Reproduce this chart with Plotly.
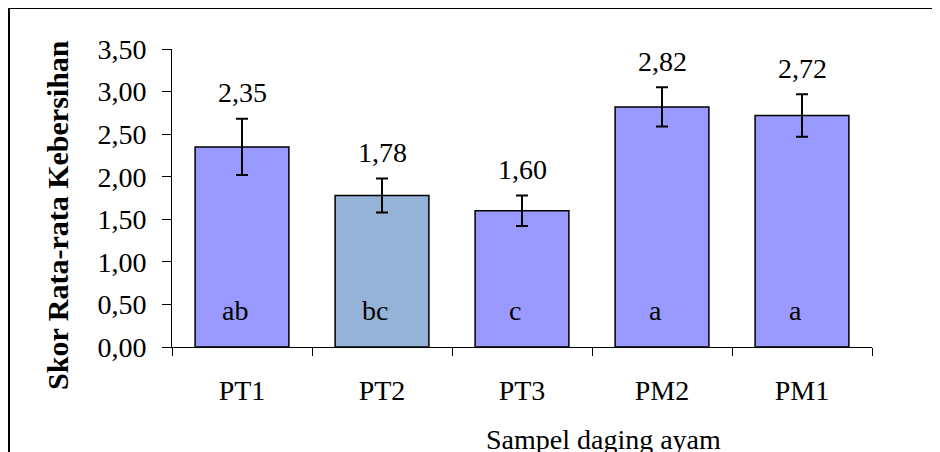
import plotly.graph_objects as go

categories = ["PT1", "PT2", "PT3", "PM2", "PM1"]
means = [2.35, 1.78, 1.60, 2.82, 2.72]
errors = [0.33, 0.20, 0.18, 0.23, 0.25]
value_labels = ["2,35", "1,78", "1,60", "2,82", "2,72"]
letters = ["ab", "bc", "c", "a", "a"]
bar_colors = ["#9999FF", "#95B3D7", "#9999FF", "#9999FF", "#9999FF"]
y_tickvals = [0, 0.5, 1.0, 1.5, 2.0, 2.5, 3.0, 3.5]
y_ticktext = ["0,00", "0,50", "1,00", "1,50", "2,00", "2,50", "3,00", "3,50"]

FONT = "Liberation Serif, Times New Roman, serif"
FS = 28

fig = go.Figure()
fig.add_trace(go.Bar(
    x=categories, y=means, width=0.67,
    marker=dict(color=bar_colors, line=dict(color="black", width=1.5)),
    error_y=dict(type="data", array=errors, visible=True,
                 color="black", thickness=2, width=6),
    showlegend=False, hoverinfo="skip",
))

annotations = []
for c, m, e, t in zip(categories, means, errors, value_labels):
    annotations.append(dict(x=c, y=m + e, text=t, showarrow=False,
                            xref="x", yref="y", yanchor="middle", yshift=26,
                            font=dict(family=FONT, size=FS, color="black")))
for c, l in zip(categories, letters):
    annotations.append(dict(x=c, y=0.43, text=l, showarrow=False,
                            xref="x", yref="y", yanchor="middle", xshift=-7,
                            font=dict(family=FONT, size=FS, color="black")))
annotations.append(dict(x=-0.163, y=0.443, xref="paper", yref="paper",
                        text="<b>Skor Rata-rata Kebersihan</b>", textangle=-90,
                        showarrow=False, xanchor="center", yanchor="middle",
                        font=dict(family=FONT, size=30, color="black")))
annotations.append(dict(x=0.617, y=-0.312, xref="paper", yref="paper",
                        text="Sampel daging ayam", showarrow=False,
                        xanchor="center", yanchor="middle",
                        font=dict(family=FONT, size=FS, color="black")))

fig.update_layout(
    width=932, height=444,
    margin=dict(l=164, r=68, t=41, b=105),
    paper_bgcolor="white", plot_bgcolor="white",
    font=dict(family=FONT, size=FS, color="black"),
    annotations=annotations,
    shapes=[dict(type="rect", xref="paper", yref="paper",
                 x0=-0.2329, x1=1.11, y0=-0.40, y1=1.1376,
                 line=dict(color="black", width=2), layer="above")],
)
fig.update_xaxes(
    showline=True, linecolor="black", linewidth=1,
    ticks="outside", tickson="boundaries", ticklen=8, tickcolor="black",
    ticklabelstandoff=18, showgrid=False, zeroline=False,
    tickfont=dict(family=FONT, size=FS, color="black"),
)
fig.update_yaxes(
    range=[0, 3.5], tickvals=y_tickvals, ticktext=y_ticktext,
    showline=True, linecolor="black", linewidth=1,
    ticks="outside", ticklen=9, tickcolor="black",
    ticklabelstandoff=10, showgrid=False, zeroline=False,
    tickfont=dict(family=FONT, size=FS, color="black"),
)

fig.write_html("out.html")
